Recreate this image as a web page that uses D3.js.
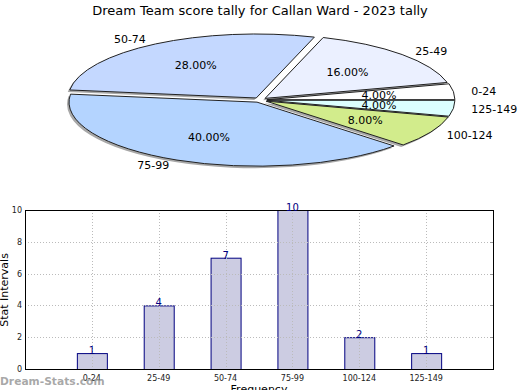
<!DOCTYPE html>
<html>
<head>
<meta charset="utf-8">
<script src="https://cdn.jsdelivr.net/npm/d3@7"></script>
<style>
  body { margin: 0; background: #fff; }
  svg { display: block; font-family: "DejaVu Sans", sans-serif; }
</style>
</head>
<body>
<svg id="chart" width="520" height="390"></svg>
<script>
// データ
const categories = ['0-24', '25-49', '50-74', '75-99', '100-124', '125-149'];
const counts = [1, 4, 7, 10, 2, 1];
const sliceColors = ['#ffffff', '#ebf0ff', '#c4d8ff', '#b4d4ff', '#d2ec8c', '#dcffff'];
const yTicks = [0, 2, 4, 6, 8, 10];
const titleText = 'Dream Team score tally for Callan Ward - 2023 tally';

const svg = d3.select('#chart');
svg.append('rect').attr('width', 520).attr('height', 390).attr('fill', '#fff');

svg.append('text')
   .attr('x', 260).attr('y', 15)
   .attr('text-anchor', 'middle')
   .attr('font-size', 13)
   .text(titleText);

// 円グラフ
const cx = 260, cy = 100, rx = 188, ry = 64, ratio = ry / rx;
const explode = 7;
const total = d3.sum(counts);

const pie = d3.pie().sort(null).startAngle(Math.PI / 2).endAngle(Math.PI / 2 - 2 * Math.PI);
const arcs = pie(counts);
const arc = d3.arc().innerRadius(0).outerRadius(rx);

function offset(d) {
   const a = (d.startAngle + d.endAngle) / 2;
   return [explode * Math.sin(a), -explode * Math.cos(a) * ratio];
}

const pieG = svg.append('g');

// 影
pieG.selectAll('path.shadow')
   .data(arcs)
   .enter()
   .append('path')
   .attr('class', 'shadow')
   .attr('transform', (d) => {
      const [dx, dy] = offset(d);
      return `translate(${cx + dx - 2},${cy + dy + 2}) scale(1,${ratio})`;
   })
   .attr('d', arc)
   .attr('fill', '#a8a8a8');

pieG.selectAll('path.slice')
   .data(arcs)
   .enter()
   .append('path')
   .attr('class', 'slice')
   .attr('transform', (d) => {
      const [dx, dy] = offset(d);
      return `translate(${cx + dx},${cy + dy}) scale(1,${ratio})`;
   })
   .attr('d', arc)
   .attr('fill', (d, i) => sliceColors[i])
   .attr('stroke', '#222')
   .attr('stroke-width', 1)
   .attr('vector-effect', 'non-scaling-stroke');

// ラベル
arcs.forEach((d, i) => {
   const a = (d.startAngle + d.endAngle) / 2;
   const s = Math.sin(a), c = Math.cos(a);
   svg.append('text')
      .attr('x', cx + 120 * s)
      .attr('y', cy - 41 * c)
      .attr('dy', '0.35em')
      .attr('text-anchor', 'middle')
      .attr('font-size', 11)
      .text((counts[i] / total * 100).toFixed(2) + '%');
   svg.append('text')
      .attr('x', cx + 213 * s)
      .attr('y', cy - 72 * c)
      .attr('dy', '0.35em')
      .attr('text-anchor', s >= 0 ? 'start' : 'end')
      .attr('font-size', 11)
      .text(categories[i]);
});

// 棒グラフ
const plotL = 25, plotR = 493, plotT = 210, plotB = 369;
const x = d3.scaleLinear().domain([-1, categories.length]).range([plotL, plotR]);
const y = d3.scaleLinear().domain([0, 10]).range([plotB, plotT]);
const barW = 30;

const barG = svg.append('g');

barG.selectAll('rect.bar')
   .data(counts)
   .enter()
   .append('rect')
   .attr('class', 'bar')
   .attr('x', (d, i) => x(i) - barW / 2 + 0.5)
   .attr('y', (d) => y(d) + 0.5)
   .attr('width', barW)
   .attr('height', (d) => y(0) - y(d))
   .attr('fill', '#ccccE2')
   .attr('stroke', '#000080')
   .attr('stroke-width', 1);

// グリッド
barG.selectAll('line.hgrid')
   .data(yTicks.slice(1, -1))
   .enter()
   .append('line')
   .attr('x1', plotL).attr('x2', plotR)
   .attr('y1', (d) => Math.round(y(d)) + 0.5).attr('y2', (d) => Math.round(y(d)) + 0.5)
   .attr('stroke', '#bbb')
   .attr('stroke-dasharray', '1,2');

barG.selectAll('line.vgrid')
   .data(categories)
   .enter()
   .append('line')
   .attr('x1', (d, i) => Math.round(x(i)) + 0.5).attr('x2', (d, i) => Math.round(x(i)) + 0.5)
   .attr('y1', plotT).attr('y2', plotB)
   .attr('stroke', '#bbb')
   .attr('stroke-dasharray', '1,2');

// 目盛り
const yAxis = d3.axisLeft(y).tickValues(yTicks).tickSize(0).tickPadding(3);
barG.append('g')
   .attr('transform', `translate(${plotL},0)`)
   .call(yAxis)
   .call((g) => g.select('.domain').remove())
   .call((g) => g.selectAll('text').attr('font-size', 8).attr('font-family', 'DejaVu Sans').attr('fill', '#222'));

barG.selectAll('line.rtick')
   .data(yTicks)
   .enter()
   .append('line')
   .attr('x1', plotR - 3).attr('x2', plotR)
   .attr('y1', (d) => Math.round(y(d)) + 0.5).attr('y2', (d) => Math.round(y(d)) + 0.5)
   .attr('stroke', '#999');

barG.selectAll('text.xlabel')
   .data(categories)
   .enter()
   .append('text')
   .attr('x', (d, i) => x(i))
   .attr('y', 381)
   .attr('text-anchor', 'middle')
   .attr('font-size', 8)
   .attr('fill', '#222')
   .text((d) => d);

barG.append('rect')
   .attr('x', plotL + 0.5).attr('y', plotT + 0.5)
   .attr('width', plotR - plotL).attr('height', plotB - plotT)
   .attr('fill', 'none')
   .attr('stroke', '#000');

// 値ラベル
barG.selectAll('text.value')
   .data(counts)
   .enter()
   .append('text')
   .attr('x', (d, i) => x(i))
   .attr('y', (d) => y(d) + 1)
   .attr('text-anchor', 'middle')
   .attr('font-size', 10)
   .attr('fill', '#000080')
   .text((d) => d);

svg.append('text')
   .attr('transform', 'translate(8,290) rotate(-90)')
   .attr('text-anchor', 'middle')
   .attr('font-size', 11)
   .text('Stat Intervals');

svg.append('text')
   .attr('x', 259).attr('y', 393)
   .attr('text-anchor', 'middle')
   .attr('font-size', 11)
   .text('Frequency');

svg.append('text')
   .attr('x', 0).attr('y', 385)
   .attr('font-size', 10.7)
   .attr('font-weight', 'bold')
   .attr('fill', '#999')
   .attr('fill-opacity', 0.85)
   .text('Dream-Stats.com');
</script>
</body>
</html>
